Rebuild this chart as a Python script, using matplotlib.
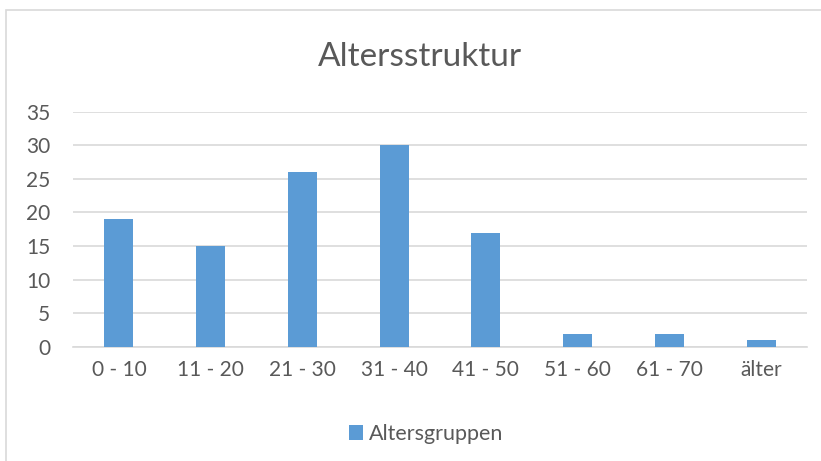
import matplotlib
matplotlib.use("Agg")
import matplotlib.pyplot as plt
from matplotlib.patches import Rectangle

categories = ["0 - 10", "11 - 20", "21 - 30", "31 - 40", "41 - 50", "51 - 60", "61 - 70", "älter"]
values = [19, 15, 26, 30, 17, 2, 2, 1]
series_name = "Altersgruppen"
title = "Altersstruktur"
yticks = [0, 5, 10, 15, 20, 25, 30, 35]

plt.rcParams['font.family'] = ['Lato', 'DejaVu Sans']
txt = "#595959"
bar_color = "#5B9BD5"
grid = "#D9D9D9"

W, H = 821, 461
fig = plt.figure(figsize=(W/100, H/100), dpi=100)

# chart border (top and left visible)
fig.add_artist(Rectangle((6/W, -0.1), 1.2, (H-10)/H + 0.1, transform=fig.transFigure,
                         fill=False, edgecolor="#D9D9D9", linewidth=1.2))

left, right = 73/W, 807/W
bottom, top = 1-347/H, 1-111.5/H
ax = fig.add_axes([left, bottom, right-left, top-bottom])
x = list(range(len(categories)))
ax.bar(x, values, width=0.316, color=bar_color, zorder=3, label=series_name)
ax.set_xlim(-0.5, len(categories)-0.5)
ax.set_ylim(0, 35)
ax.set_yticks(yticks)
ax.set_xticks(x)
ax.set_xticklabels(categories)
ax.grid(axis='y', color=grid, linewidth=1.2, zorder=0)
for s in ["top", "right", "left"]:
    ax.spines[s].set_visible(False)
ax.spines["bottom"].set_color(grid)
ax.spines["bottom"].set_linewidth(1.2)
ax.tick_params(axis='both', length=0, labelsize=15, colors=txt)
ax.tick_params(axis='x', pad=9)
ax.tick_params(axis='y', pad=16.5)

fig.text(420/W, 1-66/H, title, ha='center', va='baseline', fontsize=24, color=txt)

leg = fig.legend(loc='center', bbox_to_anchor=(426/W, 1-434/H), frameon=False,
                 fontsize=15.5, handlelength=0.65, handleheight=0.65, handletextpad=0.3)
for t in leg.get_texts():
    t.set_color(txt)

fig.savefig("out.png", dpi=100)
